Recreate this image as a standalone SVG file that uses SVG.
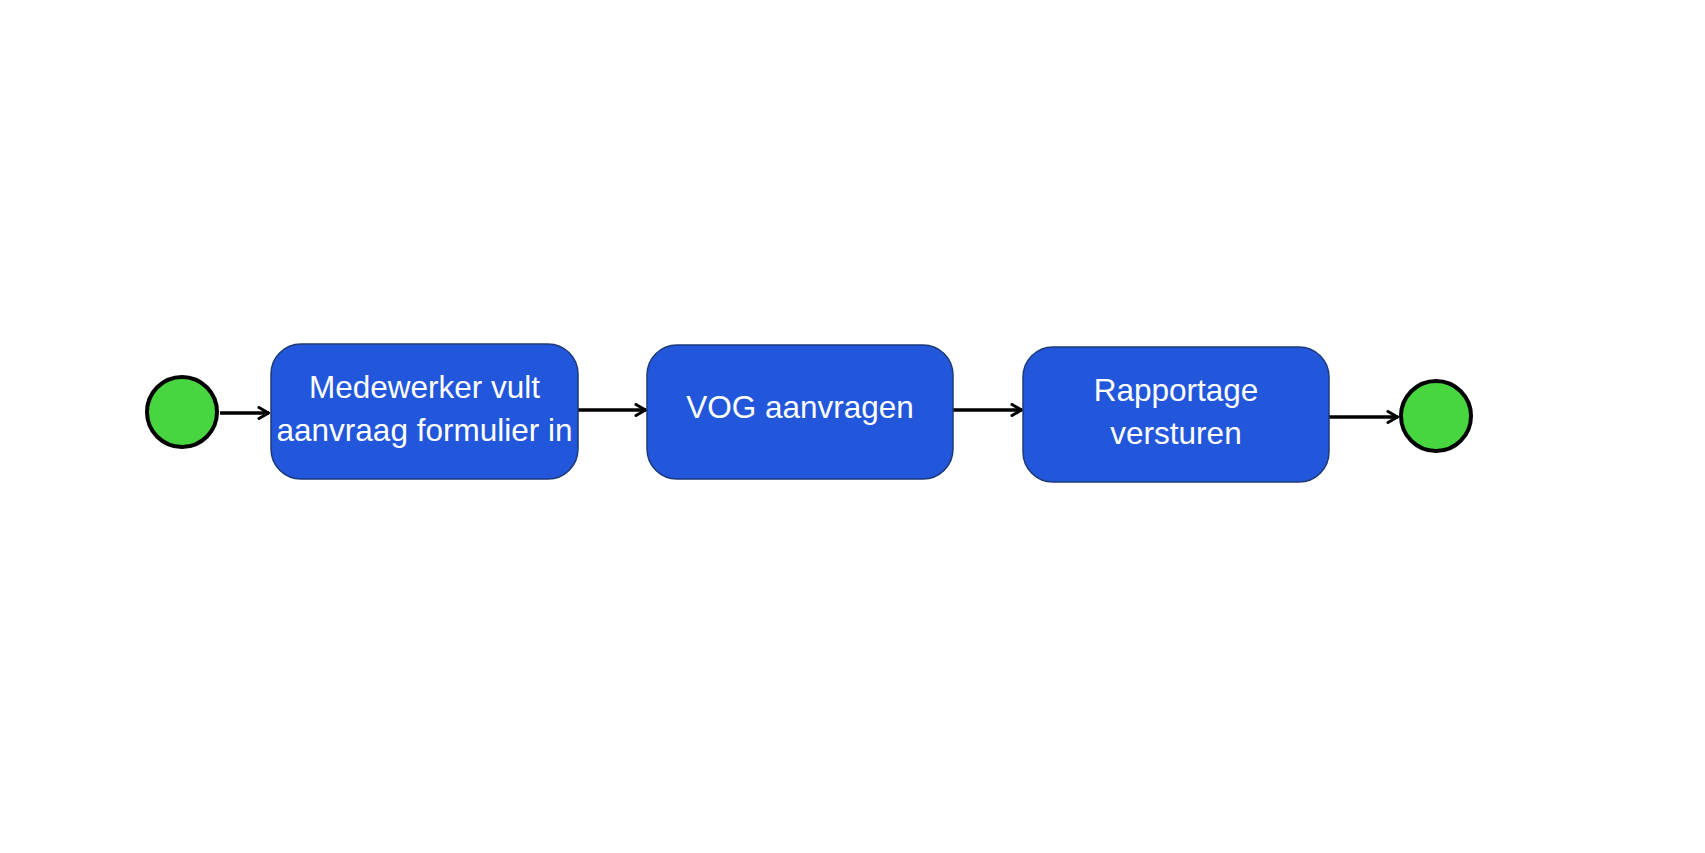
<svg xmlns="http://www.w3.org/2000/svg" width="1705" height="853" viewBox="0 0 1705 853">
<defs>
<style>
.box{fill:#2257DC;stroke:#1E3A78;stroke-width:1.5}
.ev{fill:#47D63F;stroke:#000;stroke-width:4}
.lbl{font-family:"Liberation Sans",Arial,sans-serif;font-size:31.5px;fill:#fff;text-anchor:middle}
.edge{stroke:#000;stroke-width:3.5;fill:none}
</style>
<marker id="arr" viewBox="0 0 14 14" refX="13" refY="7" markerWidth="14" markerHeight="14" markerUnits="userSpaceOnUse" orient="auto">
<path d="M3,1.5 L12.5,7 L3,12.5" fill="none" stroke="#000" stroke-width="3" stroke-linecap="round" stroke-linejoin="round"/>
</marker>
</defs>
<rect width="1705" height="853" fill="#fff"/>
<g id="connectors">
<line class="edge" x1="220" y1="413" x2="269" y2="413" marker-end="url(#arr)"/>
<line class="edge" x1="578" y1="410" x2="646" y2="410" marker-end="url(#arr)"/>
<line class="edge" x1="953" y1="410" x2="1022" y2="410" marker-end="url(#arr)"/>
<line class="edge" x1="1329" y1="417" x2="1398" y2="417" marker-end="url(#arr)"/>
</g>
<g id="start"><circle class="ev" cx="182" cy="412" r="35"/></g>
<g id="task1">
<rect class="box" x="271" y="344" width="307" height="135" rx="30"/>
<text class="lbl" x="424.5" y="398">Medewerker vult</text>
<text class="lbl" x="424.5" y="441">aanvraag formulier in</text>
</g>
<g id="task2">
<rect class="box" x="647" y="345" width="306" height="134" rx="30"/>
<text class="lbl" x="800" y="418">VOG aanvragen</text>
</g>
<g id="task3">
<rect class="box" x="1023" y="347" width="306" height="135" rx="30"/>
<text class="lbl" x="1176" y="401">Rapportage</text>
<text class="lbl" x="1176" y="444">versturen</text>
</g>
<g id="end"><circle class="ev" cx="1436" cy="416" r="35"/></g>
</svg>
